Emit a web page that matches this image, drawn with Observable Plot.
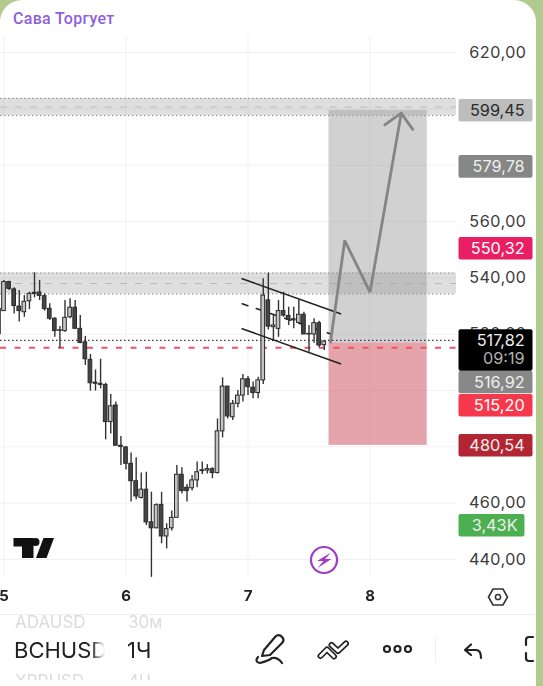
<!DOCTYPE html>
<html><head><meta charset="utf-8">
<script src="https://cdn.jsdelivr.net/npm/d3@7"></script>
<script src="https://cdn.jsdelivr.net/npm/@observablehq/plot@0.6"></script>
<style>
html,body{margin:0;padding:0;width:543px;height:686px;overflow:hidden;background:#b2ca8d;}
#card{position:relative;width:536px;height:686px;background:#fff;border-radius:22px 22px 0 0;overflow:hidden;font-family:Inter,"Noto Sans",sans-serif;filter:blur(.45px);}
#title{position:absolute;left:13px;top:9px;font:500 16px/20px Roboto,sans-serif;color:#8d5fdc;letter-spacing:.3px;}
#chart{position:absolute;left:0;top:36px;}
#sep{position:absolute;left:0;right:0;top:614px;height:1px;background:#efefef;}
.ghost,.main{position:absolute;white-space:nowrap;font-family:Inter,sans-serif;}
.main{color:#222;font-size:22px;line-height:26px;}
.ghost{color:#dcdcdc;font-size:17px;line-height:20px;}
#sym{position:absolute;left:14px;top:610px;width:91px;height:70px;overflow:hidden;-webkit-mask-image:linear-gradient(to right,#000 85%,transparent);}
#tf{position:absolute;left:127px;top:610px;width:50px;height:70px;overflow:hidden;}
svg.icons{position:absolute;left:0;top:0;pointer-events:none;}
</style></head><body>
<div id="card">
<div id="title">Сава Торгует</div>
<div id="chart"></div>
<div id="sep"></div>
<div id="sym"><div class="ghost" style="top:2px;left:1px">ADAUSD</div><div class="main" style="top:27px;left:0">BCHUSD</div><div class="ghost" style="top:61px;left:1px">XRPUSD</div></div>
<div id="tf"><div class="ghost" style="top:2px;left:1px">30м</div><div class="main" style="top:27px;left:0">1Ч</div><div class="ghost" style="top:61px;left:1px">4Ч</div></div>
<svg class="icons" width="536" height="686" viewBox="0 0 536 686">
  <g fill="#111"><path d="M13.500 538H33.500V558H22V546.500H13.500Z"/><circle cx="35.500" cy="542" r="4"/><path d="M43.500 538H54L46.500 558H36Z"/></g>
  <circle cx="324" cy="560" r="13" fill="#fff" stroke="#a13bc4" stroke-width="2.200"/>
  <path d="M331 552.500L317 561H323.500L317.500 568L331.500 559H325Z" fill="#a13bc4"/>
  <path d="M488.500 597L493 589H503L507.500 597L503 605H493Z" fill="none" stroke="#333" stroke-width="1.600"/>
  <circle cx="498" cy="597" r="2.600" fill="none" stroke="#333" stroke-width="1.500"/>
  <g fill="none" stroke-linecap="round" stroke-linejoin="round">
    <path d="M320.500 656L327 649.500L334 656.500M331.500 645L338 651L346 643.500" stroke="#222" stroke-width="6"/>
    <path d="M320.500 656L327 649.500L334 656.500M331.500 645L338 651L346 643.500" stroke="#fff" stroke-width="2.600"/>
  </g>
  <g fill="none" stroke="#222" stroke-width="2.200" stroke-linecap="round" stroke-linejoin="round">
    <path d="M262 656L264 650L275.500 636.500Q278 634 281 636L282.500 637.500Q284.500 640 282.500 642.500L270 655Z"/>
    <path d="M258 657Q254 662 260 663Q268 661 272 658Q278 657 282 663"/>
    <circle cx="387" cy="649" r="3"/><circle cx="397.500" cy="649" r="3"/><circle cx="408" cy="649" r="3"/>
    <path d="M465 650L471 644.500M465 650L471 655M465 650H476Q481 650 481 658"/>
    <path d="M533 637H529Q526 637 526 640V645M526 653V658Q526 661 529 661H533"/>
  </g>
  <path d="M435.500 638V662" stroke="#eee"/>
</svg>
</div>
<script>
const startHour = -1;
const open  = [529.0,528.2,538.5,535.9,529.8,527.8,531.7,534.7,534.8,533.5,529.0,525.5,521.2,521.1,526.0,529.4,521.9,517.1,510.9,502.8,502.4,502.0,488.8,494.7,480.4,479.8,474.0,467.8,461.9,464.8,453.2,451.1,459.4,448.2,451.1,454.8,470.1,465.5,465.3,468.1,471.4,471.6,472.1,470.7,485.5,501.4,490.5,495.3,498.2,504.0,501.0,499.1,503.6,532.0,522.5,521.9,528.2,526.5,525.3,524.0,526.9,519.9,519.9,523.9,516.1];
const high  = [530.0,539.1,538.8,536.5,535.5,533.7,534.9,541.8,539.1,534.3,530.8,525.8,522.7,532.0,532.6,532.0,526.6,519.2,512.8,507.3,511.1,502.6,498.6,495.9,483.7,480.1,477.8,476.1,470.7,471.0,463.9,459.8,463.9,452.7,457.2,473.4,472.6,466.6,469.8,474.6,474.6,473.7,472.6,489.9,504.5,501.4,496.5,500.0,505.7,505.0,503.0,504.7,539.7,541.7,526.6,532.0,534.9,529.6,529.6,532.2,527.8,523.1,525.5,524.6,517.8];
const low   = [519.5,528.2,535.5,527.2,524.3,526.0,528.7,532.9,532.0,528.2,524.9,518.9,514.9,520.7,525.5,521.9,516.6,508.9,499.8,499.8,500.6,482.5,484.6,480.4,473.4,471.8,460.4,461.2,461.5,452.1,433.7,450.9,445.6,443.8,450.1,454.8,463.3,460.4,464.3,465.5,470.2,470.4,468.7,470.4,483.2,489.9,489.4,493.9,495.9,498.2,497.1,497.1,502.1,521.5,517.5,518.9,526.0,523.1,521.9,523.7,519.9,513.6,516.8,515.2,514.2];
const close = [520.0,538.5,536.1,530.0,528.2,531.5,534.3,534.3,533.6,528.9,525.5,521.1,521.4,525.8,529.4,521.9,516.9,511.1,502.6,502.4,502.0,488.8,494.4,480.4,480.0,474.0,467.8,462.4,464.8,453.2,451.1,459.3,448.2,450.8,454.8,470.1,464.3,464.3,468.1,471.0,471.7,472.1,470.7,485.5,501.4,490.8,495.3,498.2,504.0,501.2,499.1,503.6,533.7,522.7,523.1,528.2,526.6,525.1,524.9,526.9,519.9,520.1,523.9,516.0,517.4];

const candles = open.map((o,i)=>({day:5+(startHour+i)/24,open:o,high:high[i],low:low[i],close:close[i]}));
const halfBody = 0.015;

const gridPrices = [620,600,580,560,540,520,500,480,460,440];
const labelPrices = [620,560,540,520,460,440];
const dayTicks = [5,6,7,8];
const zones = [{top:603.7,bottom:597.6,mid:600.65},{top:541.7,bottom:534.3,mid:538.0}];
const lastPrice = 517.82, bidPrice = 515.20;

const posLeft = 7.664, posRight = 8.469;
const target = 599.45, entry = 516.92, stop = 480.54;

const pathDays   = [7.676,7.793,8.0,8.256];
const pathPrices = [517.16,553.26,534.9,598.45];
const headDays   = [8.121,8.256,8.351];
const headPrices = [594.3,598.45,592.7];
const solidChannels = [
  {d:[6.952,7.758],p:[539.67,527.24]},
  {d:[6.952,7.758],p:[521.92,509.5]}
];
const midChannel = {d:[6.952,7.690],p:[530.8,519.9]};

const badgeLeft = 8.7295, badgeRight = 9.336, badgeRightShort = 9.270;
const badgeTextDay = 9.268, badgeTextShort = 9.21;
const badges = [
  {label:"599,45",at:599.3,half:4,fill:"#bdbdbd",color:"#2b2b2b",right:badgeRight,textDay:badgeTextDay},
  {label:"579,78",at:579.4,half:4,fill:"#868686",color:"#eeeeee",right:badgeRight,textDay:badgeTextDay},
  {label:"550,32",at:550.3,half:4,fill:"#ea1f63",color:"#ffffff",right:badgeRight,textDay:badgeTextDay},
  {label:"516,92",at:502.85,half:4,fill:"#888888",color:"#eeeeee",right:badgeRight,textDay:badgeTextDay},
  {label:"515,20",at:494.6,half:4,fill:"#f5384b",color:"#ffffff",right:badgeRight,textDay:badgeTextDay},
  {label:"480,54",at:480.4,half:4,fill:"#b22633",color:"#eeeeee",right:badgeRight,textDay:badgeTextDay},
  {label:"3,43K",at:451.97,half:4,fill:"#4cb050",color:"#eeeeee",right:badgeRightShort,textDay:badgeTextShort}
];
const lastBadge = {at:514.2,half:7.35,lines:[{t:"517,82",y:517.5,c:"#eeeeee"},{t:"09:19",y:511.26,c:"#b0b0b0"}]};

const comma = v => v.toFixed(2).replace(".",",");
const fontFamily = "Inter, sans-serif";
const lineData = (ds,ps) => ds.map((d,i)=>({d,p:ps[i]}));

const plot = Plot.plot({
  width:536,height:580,marginTop:0,marginBottom:39,marginLeft:0,marginRight:80,
  style:{background:"transparent",fontFamily,overflow:"hidden"},
  x:{domain:[4.9713,8.709],range:[0,456]},
  y:{domain:[433.63,625.68],range:[541,0]},
  marks:[
    Plot.ruleY(gridPrices,{stroke:"#f1f1f1"}),
    Plot.ruleX(dayTicks,{stroke:"#f1f1f1"}),
    Plot.axisY({anchor:"right",ticks:labelPrices,tickFormat:comma,tickSize:0,tickPadding:12.5,fontSize:16.3,fill:"#3c3c3c",textAnchor:"start",label:null}),
    Plot.axisX({ticks:dayTicks,tickFormat:String,tickSize:0,tickPadding:13,fontSize:15,fontWeight:700,fill:"#222",label:null}),
    Plot.rect(zones,{x1:4.9713,x2:8.709,y1:"bottom",y2:"top",fill:"#969696",fillOpacity:0.3}),
    Plot.ruleY(zones,{y:"top",stroke:"#888",strokeDasharray:"1.5,2.5",strokeWidth:1}),
    Plot.ruleY(zones,{y:"bottom",stroke:"#888",strokeDasharray:"1.5,2.5",strokeWidth:1}),
    Plot.ruleY(zones,{y:"mid",stroke:"#bbb",strokeDasharray:"7,8"}),
    Plot.rect([{t:target,b:entry}],{x1:posLeft,x2:posRight,y1:"b",y2:"t",fill:"#9a9a9a",fillOpacity:0.45}),
    Plot.rect([{t:entry,b:stop}],{x1:posLeft,x2:posRight,y1:"b",y2:"t",fill:"#d05a68",fillOpacity:0.55}),
    Plot.ruleY([lastPrice],{stroke:"#333",strokeDasharray:"1.5,2.5",strokeWidth:1.3}),
    Plot.ruleY([bidPrice],{stroke:"#ef5364",strokeDasharray:"6,8.5",strokeWidth:1.9}),
    Plot.line(lineData(midChannel.d,midChannel.p),{x:"d",y:"p",stroke:"#222",strokeWidth:1.6,strokeDasharray:"6,9"}),
    Plot.ruleX(candles,{x:"day",y1:"low",y2:"high",stroke:"#333",strokeWidth:1.4}),
    Plot.rect(candles,{x1:d=>d.day-halfBody,x2:d=>d.day+halfBody,y1:d=>Math.min(d.open,d.close),y2:d=>Math.max(d.open,d.close),
      fill:d=>d.close>=d.open?"#c4c4c4":"#454545",stroke:"#2a2a2a",strokeWidth:1}),
    ...solidChannels.map(c=>Plot.line(lineData(c.d,c.p),{x:"d",y:"p",stroke:"#222",strokeWidth:1.6})),
    Plot.line(lineData(pathDays,pathPrices),{x:"d",y:"p",stroke:"#858585",strokeWidth:2.8,strokeLinejoin:"miter"}),
    Plot.line(lineData(headDays,headPrices),{x:"d",y:"p",stroke:"#858585",strokeWidth:2.8,strokeLinejoin:"miter"}),
    Plot.rect(badges,{x1:badgeLeft,x2:"right",y1:d=>d.at-d.half,y2:d=>d.at+d.half,fill:"fill",rx:2}),
    Plot.rect([lastBadge],{x1:badgeLeft,x2:badgeRight,y1:d=>d.at-d.half,y2:d=>d.at+d.half,fill:"#000",rx:2}),
    Plot.text(badges,{x:"textDay",y:"at",text:"label",fill:"color",textAnchor:"end",fontSize:16.3}),
    Plot.text(lastBadge.lines,{x:badgeTextDay,y:"y",text:"t",fill:"c",textAnchor:"end",fontSize:16.3})
  ]
});
document.getElementById("chart").append(plot);
</script>
</body></html>
